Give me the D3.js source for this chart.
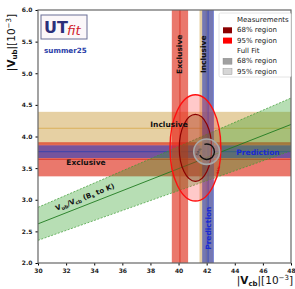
<!DOCTYPE html>
<html>
<head>
<meta charset="utf-8">
<script src="https://cdn.jsdelivr.net/npm/d3@7"></script>
<style>
  body { margin: 0; background: #fff; }
  text { font-family: "DejaVu Sans", sans-serif; }
  .tick text { font-size: 6px; font-weight: bold; fill: #222; }
</style>
</head>
<body>
<div id="chart"></div>
<script>
// data
const xTicks = [30, 32, 34, 36, 38, 40, 42, 44, 46, 48];
const yTicks = [2.0, 2.5, 3.0, 3.5, 4.0, 4.5, 5.0, 5.5, 6.0];

// |Vcb| determinations (vertical bands)
const vcbNames = ["Exclusive", "Inclusive", "Prediction"];
const vcbCentral = [40.1, 41.97, 42.1];
const vcbError = [0.58, 0.48, 0.42];

// |Vub| determinations (horizontal bands)
const vubNames = ["Inclusive", "Exclusive", "Prediction"];
const vubCentral = [4.13, 3.64, 3.76];
const vubError = [0.26, 0.27, 0.10];

// Vub/Vcb from Bs -> K
const ratioCentral = 0.0873;
const ratioError = 0.0087;

// ellipses: centre, half-axes
const measCenter = [41.2, 3.82];
const meas68 = [1.15, 0.53];
const meas95 = [1.81, 0.84];
const fitCenter = [42.0, 3.76];
const fit95 = [0.92, 0.2];
const fit68 = [0.55, 0.12];

const legendLabels = ["Measurements", "68% region", "95% region", "Full Fit", "68% region", "95% region"];

const W = 295, H = 289;
const margin = { top: 10, right: 4, bottom: 26, left: 38 };

const svg = d3.select("#chart").append("svg")
  .attr("width", W).attr("height", H);

const x = d3.scaleLinear().domain([30, 48]).range([margin.left, W - margin.right]);
const y = d3.scaleLinear().domain([2, 6]).range([H - margin.bottom, margin.top]);

const colors = {
  Exclusive: "rgba(220,30,10,0.6)",
  Inclusive: "rgba(200,150,50,0.45)",
  Prediction: "rgba(40,60,190,0.6)"
};
const lineColors = { Exclusive: "#d42a1a", Inclusive: "#d8a84a", Prediction: "#3040b0" };

svg.append("clipPath").attr("id", "clip")
  .append("rect")
  .attr("x", x(30)).attr("y", y(6))
  .attr("width", x(48) - x(30)).attr("height", y(2) - y(6));

const plot = svg.append("g").attr("clip-path", "url(#clip)");

// horizontal bands
vubNames.forEach((n, i) => {
  plot.append("rect")
    .attr("x", x(30)).attr("width", x(48) - x(30))
    .attr("y", y(vubCentral[i] + vubError[i]))
    .attr("height", y(vubCentral[i] - vubError[i]) - y(vubCentral[i] + vubError[i]))
    .attr("fill", colors[n]);
  plot.append("line")
    .attr("x1", x(30)).attr("x2", x(48))
    .attr("y1", y(vubCentral[i])).attr("y2", y(vubCentral[i]))
    .attr("stroke", lineColors[n]).attr("stroke-width", 0.8);
});

// vertical bands
vcbNames.forEach((n, i) => {
  plot.append("rect")
    .attr("y", y(6)).attr("height", y(2) - y(6))
    .attr("x", x(vcbCentral[i] - vcbError[i]))
    .attr("width", x(vcbCentral[i] + vcbError[i]) - x(vcbCentral[i] - vcbError[i]))
    .attr("fill", colors[n]);
  plot.append("line")
    .attr("y1", y(6)).attr("y2", y(2))
    .attr("x1", x(vcbCentral[i])).attr("x2", x(vcbCentral[i]))
    .attr("stroke", lineColors[n]).attr("stroke-width", 0.8);
});

// ratio band
const up = ratioCentral + ratioError, lo = ratioCentral - ratioError;
plot.append("path")
  .attr("d", `M${x(30)},${y(30 * up)}L${x(48)},${y(48 * up)}L${x(48)},${y(48 * lo)}L${x(30)},${y(30 * lo)}Z`)
  .attr("fill", "rgba(50,160,40,0.35)");
[up, lo].forEach(r => {
  plot.append("line")
    .attr("x1", x(30)).attr("y1", y(30 * r)).attr("x2", x(48)).attr("y2", y(48 * r))
    .attr("stroke", "#3a9a30").attr("stroke-width", 0.7).attr("stroke-dasharray", "2,1.5");
});
plot.append("line")
  .attr("x1", x(30)).attr("y1", y(30 * ratioCentral)).attr("x2", x(48)).attr("y2", y(48 * ratioCentral))
  .attr("stroke", "#1f7a1f").attr("stroke-width", 0.9);

// measurement ellipses
plot.append("ellipse")
  .attr("cx", x(measCenter[0])).attr("cy", y(measCenter[1]))
  .attr("rx", x(measCenter[0] + meas95[0]) - x(measCenter[0]))
  .attr("ry", y(measCenter[1]) - y(measCenter[1] + meas95[1]))
  .attr("fill", "rgba(255,60,60,0.28)").attr("stroke", "#ff1010").attr("stroke-width", 1.4);
plot.append("ellipse")
  .attr("cx", x(measCenter[0])).attr("cy", y(measCenter[1]))
  .attr("rx", x(measCenter[0] + meas68[0]) - x(measCenter[0]))
  .attr("ry", y(measCenter[1]) - y(measCenter[1] + meas68[1]))
  .attr("fill", "rgba(120,30,10,0.22)").attr("stroke", "#8b0000").attr("stroke-width", 1.2);

// full fit
plot.append("ellipse")
  .attr("cx", x(fitCenter[0])).attr("cy", y(fitCenter[1]))
  .attr("rx", x(fitCenter[0] + fit95[0]) - x(fitCenter[0]))
  .attr("ry", y(fitCenter[1]) - y(fitCenter[1] + fit95[1]))
  .attr("fill", "rgba(200,200,200,0.3)").attr("stroke", "#a8a8a8").attr("stroke-width", 1.6);
const r68 = x(fitCenter[0] + fit68[0]) - x(fitCenter[0]);
plot.append("path")
  .attr("transform", `translate(${x(fitCenter[0])},${y(fitCenter[1])})`)
  .attr("d", d3.arc()({ innerRadius: r68 - 0.7, outerRadius: r68 + 0.7, startAngle: -0.3, endAngle: Math.PI * 1.35 }))
  .attr("fill", "#111");
plot.append("text")
  .attr("transform", `translate(${x(fitCenter[0]) - 9},${y(fitCenter[1]) + 4}) rotate(-60)`)
  .attr("font-size", 3.5).attr("fill", "#333").text("68%");
plot.append("text")
  .attr("transform", `translate(${x(measCenter[0] + meas95[0]) - 2},${y(measCenter[1]) + 26}) rotate(-80)`)
  .attr("font-size", 3.5).attr("fill", "#c00").text("95%");

// band labels
function label(t, px, py, rot, col, size) {
  plot.append("text")
    .attr("transform", `translate(${px},${py}) rotate(${rot})`)
    .attr("text-anchor", "middle").attr("dominant-baseline", "central")
    .attr("font-size", size || 7.5).attr("font-weight", "bold")
    .attr("fill", col || "#111").text(t);
}
label(vcbNames[0], x(vcbCentral[0]), y(5.3), -90);
label(vcbNames[1], x(vcbCentral[1]) - 3, y(5.3), -90);
label(vcbNames[2], x(vcbCentral[2]), y(2.55), -90, "#1a2ad0");
label(vubNames[0], 169, y(vubCentral[0]) - 4, 0);
label(vubNames[1], 86, y(vubCentral[1]) + 3, 0);
label(vubNames[2], 258, y(vubCentral[2]) + 1, 0, "#1a2ad0");

const ang = -Math.atan((y(30 * ratioCentral) - y(48 * ratioCentral)) / (x(48) - x(30))) * 180 / Math.PI;
const gl = plot.append("text")
  .attr("transform", `translate(85,${y(33.5 * ratioCentral) - 7}) rotate(${ang})`)
  .attr("text-anchor", "middle").attr("dominant-baseline", "central")
  .attr("font-size", 7).attr("font-weight", "bold").attr("fill", "#111");
gl.append("tspan").text("V");
gl.append("tspan").attr("font-size", 5).attr("dy", 1.5).text("ub");
gl.append("tspan").attr("dy", -1.5).text("/V");
gl.append("tspan").attr("font-size", 5).attr("dy", 1.5).text("cb");
gl.append("tspan").attr("dy", -1.5).text(" (B");
gl.append("tspan").attr("font-size", 5).attr("dy", 1.5).text("s");
gl.append("tspan").attr("dy", -1.5).text(" to K)");

// axes
svg.append("g")
  .attr("transform", `translate(0,${y(2)})`)
  .call(d3.axisBottom(x).tickValues(xTicks).tickSize(2.5).tickFormat(d3.format("d")))
  .call(g => g.select(".domain").remove());
svg.append("g")
  .attr("transform", `translate(${x(30)},0)`)
  .call(d3.axisLeft(y).tickValues(yTicks).tickSize(2.5).tickFormat(d3.format(".1f")))
  .call(g => g.select(".domain").remove());
svg.append("rect")
  .attr("x", x(30)).attr("y", y(6))
  .attr("width", x(48) - x(30)).attr("height", y(2) - y(6))
  .attr("fill", "none").attr("stroke", "#666").attr("stroke-width", 1.2);

// axis titles
const xl = svg.append("text").attr("x", W - 2).attr("y", 284)
  .attr("text-anchor", "end").attr("font-size", 10.5).attr("fill", "#111");
xl.append("tspan").text("|");
xl.append("tspan").attr("font-weight", "bold").text("V");
xl.append("tspan").attr("font-weight", "bold").attr("font-size", 7).attr("dy", 2).text("cb");
xl.append("tspan").attr("dy", -2).text("|[10");
xl.append("tspan").attr("font-size", 7).attr("dy", -4).text("−3");
xl.append("tspan").attr("dy", 4).text("]");

const yl = svg.append("text")
  .attr("transform", `translate(15,${y(6) + 4}) rotate(-90)`)
  .attr("text-anchor", "end").attr("font-size", 10.5).attr("fill", "#111");
yl.append("tspan").text("|");
yl.append("tspan").attr("font-weight", "bold").text("V");
yl.append("tspan").attr("font-weight", "bold").attr("font-size", 7).attr("dy", 2).text("ub");
yl.append("tspan").attr("dy", -2).text("|[10");
yl.append("tspan").attr("font-size", 7).attr("dy", -4).text("−3");
yl.append("tspan").attr("dy", 4).text("]");

// logo
svg.append("rect").attr("x", 41).attr("y", 15).attr("width", 46).attr("height", 24)
  .attr("fill", "#fbf7f9").attr("stroke", "#6a6f96").attr("stroke-width", 1);
svg.append("text").attr("x", 44).attr("y", 33).attr("font-size", 16).attr("font-weight", "bold")
  .attr("fill", "#2b2f7a").attr("font-family", "Liberation Sans, sans-serif").text("UT");
svg.append("text").attr("x", 67).attr("y", 35).attr("font-size", 13).attr("font-style", "italic")
  .attr("fill", "#d0202a").attr("font-family", "Liberation Serif, serif").text("fit");
svg.append("text").attr("x", 44).attr("y", 53).attr("font-size", 7.2).attr("font-weight", "bold")
  .attr("fill", "#2a40a8").text("summer25");

// legend
const lg = svg.append("g").attr("transform", "translate(219,13)");
lg.append("rect").attr("width", 72).attr("height", 64).attr("rx", 1.5)
  .attr("fill", "#fff").attr("stroke", "#ddd").attr("stroke-width", 0.8);
const patch = [null, "#8b0000", "#ff0000", null, "#a0a0a0", "#d6d6d6"];
legendLabels.forEach((t, i) => {
  const yy = 7 + i * 10.3;
  if (patch[i]) {
    lg.append("rect").attr("x", 4).attr("y", yy - 3).attr("width", 9).attr("height", 6)
      .attr("fill", patch[i]).attr("stroke", i > 3 ? "#888" : "none").attr("stroke-width", 0.4);
  }
  lg.append("text").attr("x", 18).attr("y", yy)
    .attr("dominant-baseline", "central").attr("font-size", 7).attr("fill", "#222").text(t);
});
</script>
</body>
</html>
